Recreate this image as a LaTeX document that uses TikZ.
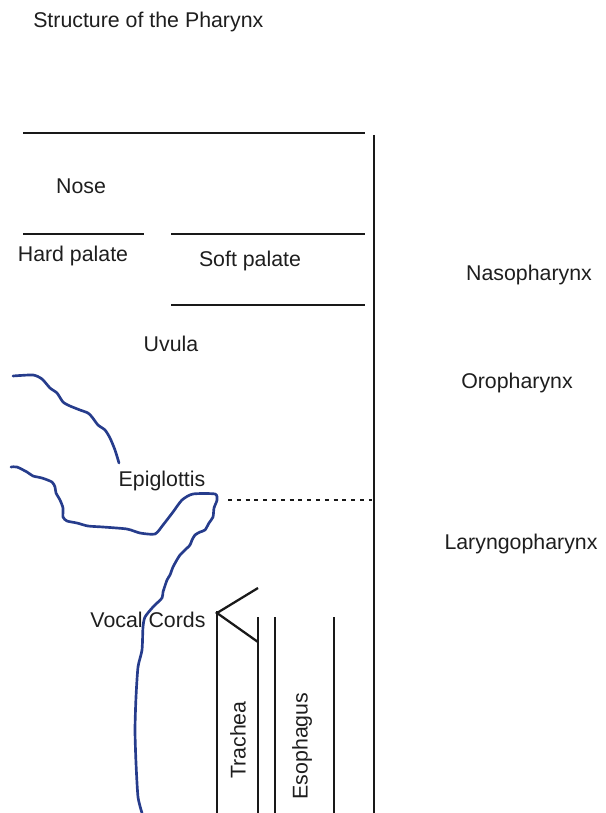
\documentclass[tikz,border=0pt]{standalone}
\usepackage{fontspec}
\setmainfont{Liberation Sans}
\usepackage{xcolor}
\usepackage{tikz}
\definecolor{throatblue}{RGB}{38,60,140}
\definecolor{labelgray}{RGB}{30,30,30}

\begin{document}
\begin{tikzpicture}[
    x=0.75pt, y=-0.75pt,
    wall/.style={line width=1.7pt, black!90},
    tissue/.style={line width=2pt, throatblue, line join=round, line cap=round},
    label/.style={font=\fontsize{16}{19}\selectfont, text=labelgray, inner sep=0pt, yshift=-1.5pt},
    divider/.style={line width=1.8pt, black!90, dash pattern=on 3pt off 3.6pt}
]
\useasboundingbox (0,0) rectangle (606,813);

% Title
\node[label, anchor=west] (title) at (33,20) {Structure of the Pharynx};

% Nose and palate
\draw[wall] (23,133) -- (365,133);
\draw[wall] (23,234) -- (144,234);
\draw[wall] (171,234) -- (365,234);
\draw[wall] (171,305) -- (365,305);
\node[label] (nose) at (81,184) {Nose};
\node[label] (hardpalate) at (73,254) {Hard palate};
\node[label] (softpalate) at (250,259) {Soft palate};
\node[label] (uvula) at (171,342) {Uvula};

% Back wall of the pharynx
\draw[wall] (374,135) -- (374,813);

% Regions
\node[label] (naso) at (529,273) {Nasopharynx};
\node[label] (oro) at (517,381) {Oropharynx};
\node[label] (laryngo) at (521,542) {Laryngopharynx};

% Tongue and epiglottis outline
\draw[tissue] plot[smooth, tension=0.4] coordinates {(13,376) (33,375) (42,379) (50,388) (57,393) (63,402) (70,406) (80,410) (88,413) (92,417) (98,425) (105,430) (110,438) (115,450) (119,463)};
\draw[tissue] plot[smooth, tension=0.4] coordinates {(11,467) (17,467) (27,472) (33,476) (42,478) (52,482) (55,487) (56,493) (60,500) (63,508) (63,517) (67,521) (77,523) (88,526) (103,527) (127,529) (140,533) (155,534) (163,525) (173,512) (182,500) (193,494) (215,494) (217,500) (214,508) (213,517) (209,523) (205,530) (200,532) (195,535) (192,540) (190,545) (185,550) (180,555) (178,558) (173,567) (170,575) (167,580) (163,592) (162,598) (153,607) (145,617) (143,627) (142,650) (138,667) (136,697) (135,730) (136,763) (138,797) (142,813)};
\node[label] (epiglottis) at (162,479) {Epiglottis};

\coordinate (epitip) at (228,500);
\coordinate (backwall) at (372,500);
\draw[divider] (epitip) -- (backwall);

% Larynx, trachea and esophagus
\node[label] (vocalcords) at (148,618) {Vocal Cords};
\draw[wall, line join=miter] (258,588) -- (217,613) -- (258,642);
\draw[wall] (217,611) -- (217,813);
\draw[wall] (258,617) -- (258,813);
\draw[wall] (275,617) -- (275,813);
\draw[wall] (334,617) -- (334,813);
\node[label, rotate=90, yshift=1.5pt, xshift=-1.5pt] (trachea) at (240,736) {Trachea};
\node[label, rotate=90, yshift=1.5pt, xshift=-1.5pt] (esophagus) at (304,742) {Esophagus};

\end{tikzpicture}
\end{document}
